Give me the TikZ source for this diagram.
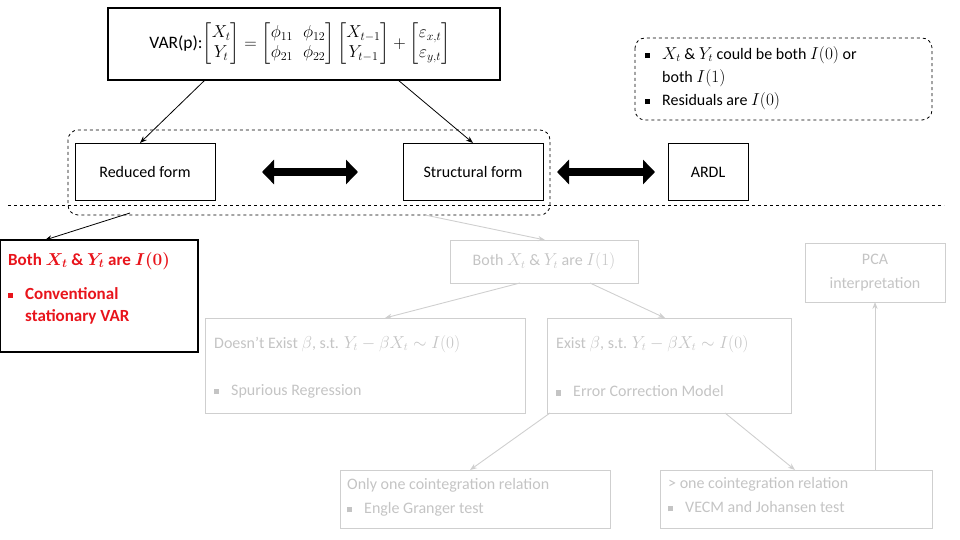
\documentclass[tikz,border=0pt]{standalone}
\usepackage{amsmath}
\usepackage{fontspec}
\setmainfont{Carlito}
\usetikzlibrary{arrows.meta}
\definecolor{lg}{HTML}{CFCFCF}
\definecolor{lt}{HTML}{C4C4C4}
\definecolor{rd}{HTML}{E8141B}
\newcommand{\sqb}{\rule[1pt]{5pt}{5pt}\hspace{12pt}}
\newcommand{\sqi}{\hspace{17pt}}
\begin{document}
\begin{tikzpicture}[x=1pt,y=-1pt,
 bx/.style={draw,line width=0.8pt},
 gbx/.style={draw=lg,line width=0.8pt},
 gar/.style={draw=lg,line width=0.9pt,-{Stealth[length=7pt]}},
 bar/.style={draw,line width=0.8pt,-{Stealth[length=7pt]}},
 dbl/.style={line width=8pt,{Triangle[length=12pt,width=24pt]}-{Triangle[length=12pt,width=24pt]}},
 txt/.style={font=\fontsize{16}{20}\selectfont},
 gtx/.style={font=\fontsize{16}{24}\selectfont,text=lt}]
\useasboundingbox (0,0) rectangle (960,540);
% top equation
\draw[bx,line width=1.2pt] (108,8) rectangle (500,80);
\node[font=\fontsize{17.5}{20}\selectfont,anchor=center,inner sep=0pt] (eq) at (300,44) {VAR(p):$\begin{bmatrix}X_t\\Y_t\end{bmatrix}=\begin{bmatrix}\phi_{11}&\phi_{12}\\\phi_{21}&\phi_{22}\end{bmatrix}\begin{bmatrix}X_{t-1}\\Y_{t-1}\end{bmatrix}+\begin{bmatrix}\varepsilon_{x,t}\\\varepsilon_{y,t}\end{bmatrix}$};
% top right
\draw[dashed,rounded corners=10pt,line width=0.8pt] (635,38) rectangle (932,120);
\node[font=\fontsize{16}{23}\selectfont,anchor=north west,align=left,inner sep=0pt] (notes) at (645,46) {\sqb$X_t$ \& $Y_t$ could be both $I(0)$ or\\\sqi both $I(1)$\\\sqb Residuals are $I(0)$};
% middle dashed group
\draw[dashed,rounded corners=10pt,line width=0.8pt] (68,130) rectangle (550,215);
\node[bx,txt,minimum width=140pt,minimum height=57pt] (red) at (145,172) {Reduced form};
\node[bx,txt,minimum width=140pt,minimum height=57pt] (str) at (473,172) {Structural form};
\node[bx,txt,minimum width=80pt,minimum height=57pt] (ardl) at (708,172) {ARDL};
\draw[dbl] (262,172) -- (358,172);
\draw[dbl] (557,172) -- (655,172);
\draw[bar] (205,80) -- (140,143);
\draw[bar] (398,80) -- (473,143);
\draw[dashed,line width=0.8pt] (8,205) -- (944,205);
% red box
\draw[bx,line width=1.2pt] (0,240) rectangle (198,352);
\node[anchor=north west,text=rd,font=\fontsize{17}{22}\selectfont\bfseries,align=left,inner sep=0pt] (rtxt) at (8,252) {Both $\boldsymbol{X_t}$ \& $\boldsymbol{Y_t}$ are $\boldsymbol{I(0)}$\\[12pt]\sqb Conventional\\\sqi stationary VAR};
\draw[bar] (130,213) -- (45,240);
% gray part
\node[gbx,gtx,minimum width=188pt,minimum height=43pt] (i1) at (544,261.5) {Both $X_t$ \& $Y_t$ are $I(1)$};
\node[gbx,gtx,minimum width=140pt,minimum height=59pt,align=center] (pca) at (875,272.5) {PCA\\interpretation};
\draw[gar] (425,215) -- (545,240);
\draw[gbx] (205,318) rectangle (525,413);
\node[gtx,anchor=west,inner sep=0pt] (ne) at (214,344) {Doesn't Exist $\beta$, s.t. $Y_t-\beta X_t\sim I(0)$};
\node[gtx,anchor=west,inner sep=0pt] (sp) at (214,391) {\sqb Spurious Regression};
\draw[gbx] (547,318) rectangle (791,413);
\node[gtx,anchor=west,inner sep=0pt] (ex) at (556,344) {Exist $\beta$, s.t. $Y_t-\beta X_t\sim I(0)$};
\node[gtx,anchor=west,inner sep=0pt] (ecm) at (556,391) {\sqb Error Correction Model};
\draw[gar] (520,283) -- (385,318);
\draw[gar] (590,283) -- (665,318);
\draw[gbx] (340,470) rectangle (610,528);
\node[gtx,anchor=north west,align=left,inner sep=0pt] (one) at (347,478) {Only one cointegration relation\\\sqb Engle Granger test};
\draw[gbx] (660,470) rectangle (932,528);
\node[gtx,anchor=north west,align=left,inner sep=0pt] (more) at (668,477) {> one cointegration relation\\\sqb VECM and Johansen test};
\draw[gar] (550,413) -- (470,470);
\draw[gar] (725,413) -- (795,470);
\draw[gar] (875,470) -- (875,302);
\end{tikzpicture}
\end{document}
